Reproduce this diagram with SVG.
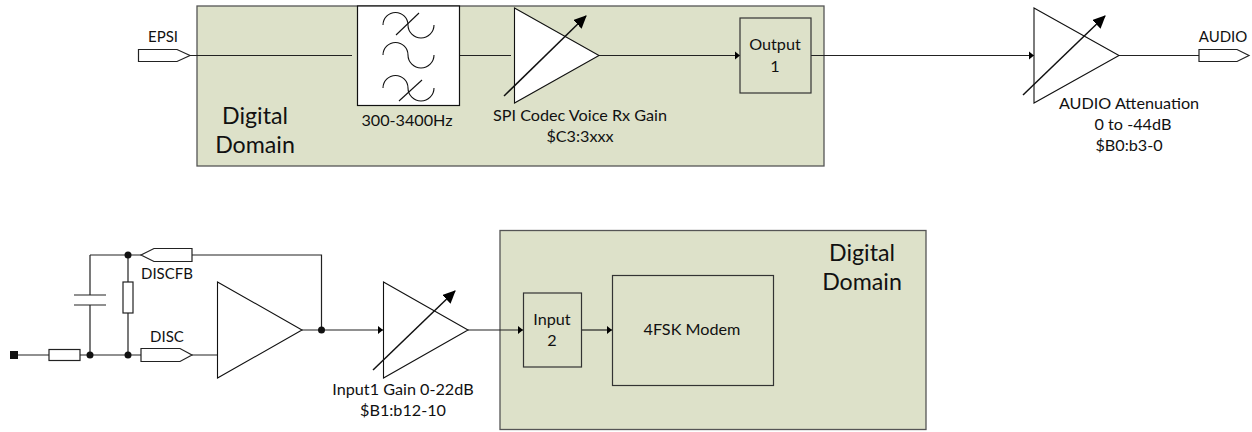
<svg xmlns="http://www.w3.org/2000/svg" width="1252" height="432" viewBox="0 0 1252 432">
<defs>
<marker id="tri" markerUnits="userSpaceOnUse" markerWidth="6" markerHeight="10" refX="5" refY="5" orient="auto"><path d="M0 1L5 5L0 9Z" fill="#000"/></marker>
<marker id="big" markerUnits="userSpaceOnUse" markerWidth="14" markerHeight="14" refX="12" refY="6" orient="auto"><path d="M0 0L13 6L0 12Z" fill="#000"/></marker>
</defs>
<style>
text{font-family:Lato,"Liberation Sans",Arial,sans-serif;font-size:16.200px;fill:#111;text-anchor:middle}
.big{font-size:23.200px}
.cap{font-size:15px}
.dom{fill:#dde1c9;stroke:#555;stroke-width:1.3}
.sh{fill:#fff;stroke:#222;stroke-width:1.2}
.box{fill:none;stroke:#333;stroke-width:1.2}
.w{fill:none;stroke:#222;stroke-width:1.2}
.arr{fill:none;stroke:#111;stroke-width:1.5}
.amp{fill:none;stroke:#111;stroke-width:1.1}
.curve{fill:none;stroke:#111;stroke-width:1.1}
.dot{fill:#111}
</style>
<rect id="domain-top" class="dom" x="197" y="6" width="627" height="160"/>
<rect id="domain-bottom" class="dom" x="500" y="230.500" width="426" height="199"/>
<g id="connectors">
<path class="w" d="M190 55.500H352"/>
<path class="w" d="M459 55.500H511"/>
<path class="w" marker-end="url(#tri)" d="M599 55.500H740"/>
<path class="w" marker-end="url(#tri)" d="M811 55.500H1034"/>
<path class="w" d="M1119 55.500H1199"/>
<path class="w" d="M14 355H49M80 355H141M192 355H217"/>
<path class="w" d="M90 255H141M192 255H321.500V330"/>
<path class="w" d="M90 255V295M90 305V355"/>
<path class="w" d="M128 255V282M128 313V355"/>
<path class="w" marker-end="url(#tri)" d="M302 330H383"/>
<path class="w" marker-end="url(#tri)" d="M468 330H523"/>
<path class="w" marker-end="url(#tri)" d="M582 330H612"/>
<path class="w" d="M74 295H106M74 305H106"/>
</g>
<g id="epsi"><path class="sh" d="M138.500 49.500H177L190 55.500L177 61.500H138.500Z"/><text class="cap" x="163" y="41.500">EPSI</text></g>
<g id="filter">
<rect x="357.500" y="6" width="102" height="99.500" fill="#fff" stroke="#111" stroke-width="1.2"/>
<path class="curve" d="M383 25A12.500 12.500 0 0 1 408 25A13 13 0 0 0 434 25"/>
<path class="curve" d="M396 35L419 13"/>
<path class="curve" d="M383 55A12.500 12.500 0 0 1 408 55A13 13 0 0 0 434 55"/>
<path class="curve" d="M383 88A12.500 12.500 0 0 1 408 88A13 13 0 0 0 434 88"/>
<path class="curve" d="M399 101L422 80"/>
<text x="407" y="126">300-3400Hz</text>
</g>
<g id="codec-gain">
<path class="amp" d="M514.500 8L599 55.500L514.500 103Z" style="fill:#fff"/>
<path class="arr" marker-end="url(#big)" d="M504 96L586 16"/>
<text x="580" y="121">SPI Codec Voice Rx Gain</text>
<text x="580" y="142">$C3:3xxx</text>
</g>
<g id="output1"><rect class="box" x="740" y="18" width="71" height="75"/><text x="775" y="50">Output</text><text x="775" y="72">1</text></g>
<g id="audio-att">
<path class="amp" d="M1034 8L1119 55.500L1034 103Z"/>
<path class="arr" marker-end="url(#big)" d="M1023 95L1105 16"/>
<text x="1129" y="108.500">AUDIO Attenuation</text>
<text x="1133" y="130">0 to -44dB</text>
<text x="1129" y="151">$B0:b3-0</text>
</g>
<g id="audio"><path class="sh" d="M1199 49.500H1237L1249 55.500L1237 61.500H1199Z"/><text class="cap" x="1223" y="41.500">AUDIO</text></g>
<text class="big" x="255" y="124">Digital</text>
<text class="big" x="255" y="153">Domain</text>
<g id="input-pin"><rect x="10" y="351" width="8" height="8" fill="#111"/><rect class="sh" x="49" y="349.500" width="31" height="11"/></g>
<g id="cap-res"><rect class="sh" x="123" y="282" width="10" height="31"/><circle class="dot" cx="90" cy="355" r="3.500"/><circle class="dot" cx="128" cy="355" r="3.500"/><circle class="dot" cx="128" cy="255" r="3.500"/></g>
<g id="discfb"><path class="sh" d="M192 248.500H154L141 255L154 261.500H192Z"/><text class="cap" x="167" y="279">DISCFB</text></g>
<g id="disc"><path class="sh" d="M141 348.500H180L192 355L180 361.500H141Z"/><text class="cap" x="167" y="342">DISC</text></g>
<g id="opamp"><path class="amp" d="M217.500 282L302 330L217.500 378Z"/><circle class="dot" cx="321.500" cy="330" r="3.500"/></g>
<g id="input1-gain">
<path class="amp" d="M383.500 282L468 330L383.500 378Z"/>
<path class="arr" marker-end="url(#big)" d="M373 370L455 291"/>
<text x="403" y="395">Input1 Gain 0-22dB</text>
<text x="403" y="416">$B1:b12-10</text>
</g>
<g id="input2"><rect class="box" x="523.500" y="293" width="58" height="74"/><text x="552" y="325">Input</text><text x="552" y="346">2</text></g>
<g id="modem"><rect class="box" x="612.500" y="275.500" width="161" height="110"/><text x="692" y="335">4FSK Modem</text></g>
<text class="big" x="862" y="261">Digital</text>
<text class="big" x="862" y="290">Domain</text>
</svg>
